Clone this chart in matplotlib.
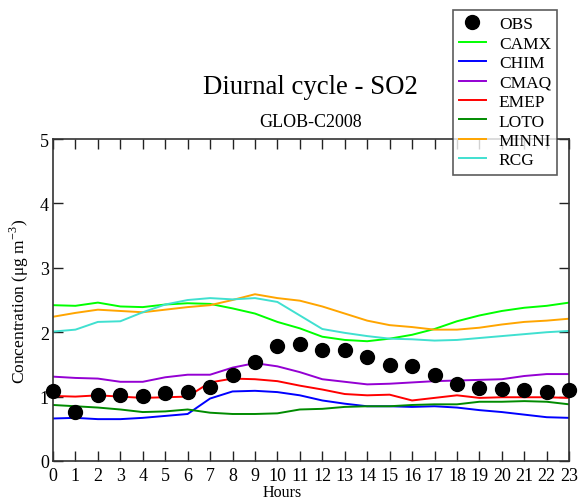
import matplotlib
matplotlib.use("Agg")
import matplotlib.pyplot as plt

plt.rcParams['font.family'] = ['Liberation Serif', 'DejaVu Serif']
plt.rcParams['mathtext.fontset'] = 'custom'
plt.rcParams['mathtext.rm'] = 'Liberation Serif'

hours = list(range(24))
xtick_labels = [str(h) for h in hours]
yticks = [0, 1, 2, 3, 4, 5]

obs = [1.09, 0.76, 1.03, 1.02, 1.01, 1.06, 1.07, 1.15, 1.34, 1.53, 1.79, 1.82,
       1.73, 1.72, 1.62, 1.49, 1.47, 1.34, 1.19, 1.13, 1.12, 1.11, 1.07, 1.11]
camx = [2.42, 2.41, 2.46, 2.40, 2.39, 2.43, 2.45, 2.44, 2.37, 2.29, 2.16, 2.06,
        1.93, 1.88, 1.86, 1.90, 1.96, 2.05, 2.17, 2.26, 2.33, 2.38, 2.41, 2.46]
chim = [0.66, 0.67, 0.65, 0.65, 0.67, 0.70, 0.73, 0.97, 1.08, 1.09, 1.07, 1.02,
        0.94, 0.89, 0.85, 0.85, 0.84, 0.85, 0.83, 0.79, 0.76, 0.72, 0.68, 0.67]
cmaq = [1.31, 1.29, 1.28, 1.23, 1.23, 1.30, 1.34, 1.34, 1.45, 1.52, 1.47, 1.38,
        1.27, 1.23, 1.19, 1.20, 1.22, 1.24, 1.25, 1.26, 1.27, 1.32, 1.35, 1.35]
emep = [1.01, 1.00, 1.02, 1.00, 0.98, 0.99, 1.00, 1.22, 1.28, 1.27, 1.24, 1.17,
        1.11, 1.04, 1.02, 1.03, 0.94, 0.98, 1.02, 0.98, 0.99, 0.99, 0.99, 0.98]
loto = [0.87, 0.85, 0.83, 0.80, 0.76, 0.77, 0.80, 0.75, 0.73, 0.73, 0.74, 0.80,
        0.81, 0.84, 0.85, 0.85, 0.87, 0.88, 0.88, 0.92, 0.92, 0.93, 0.92, 0.88]
minni = [2.24, 2.30, 2.35, 2.33, 2.31, 2.35, 2.39, 2.42, 2.50, 2.59, 2.53, 2.49,
         2.40, 2.29, 2.18, 2.11, 2.08, 2.04, 2.04, 2.07, 2.12, 2.16, 2.18, 2.21]
rcg = [2.01, 2.04, 2.16, 2.17, 2.31, 2.43, 2.50, 2.53, 2.51, 2.53, 2.47, 2.26,
       2.05, 1.99, 1.94, 1.90, 1.89, 1.87, 1.88, 1.91, 1.94, 1.97, 2.00, 2.02]

models = ['CAMX', 'CHIM', 'CMAQ', 'EMEP', 'LOTO', 'MINNI', 'RCG']
series = [camx, chim, cmaq, emep, loto, minni, rcg]
colors = ['#00ff00', '#0000ff', '#9400d3', '#ff0000', '#008b00', '#ffa500', '#40e0d0']

fig = plt.figure(figsize=(5.79, 5.02), dpi=100)
ax = fig.add_axes([0.0915, 0.0797, 0.8915, 0.6413])

h_obs, = ax.plot(hours, obs, 'o', color='black', markersize=10, linestyle='none',
                 label='OBS', zorder=5, clip_on=False)
handles = [h_obs]
for name, vals, c in zip(models, series, colors):
    h, = ax.plot(hours, vals, color=c, lw=1.4, label=name)
    handles.append(h)

ax.set_xlim(0, 23)
ax.set_ylim(0, 5)
ax.set_xticks(hours)
ax.set_xticklabels(xtick_labels)
ax.set_yticks(yticks)
ax.tick_params(direction='in', length=7, width=1, top=True, right=True,
               labelsize=13, pad=3, colors='#222222', labelcolor='black')
ax.tick_params(axis='x', pad=4)
for s in ax.spines.values():
    s.set_color('#333333')
    s.set_linewidth(1.2)

ax.set_ylabel(r'Concentration (μg m$^{-3}$)', fontsize=12.5, labelpad=6)
ax.set_xlabel('Hours', fontsize=11.5, labelpad=0)
ax.xaxis.set_label_coords(0.444, -0.072)

fig.text(0.537, 0.812, 'Diurnal cycle - SO2', fontsize=19.3, ha='center', va='baseline')
fig.text(0.537, 0.748, 'GLOB-C2008', fontsize=13, ha='center', va='baseline')

leg = fig.legend(handles=handles, loc='upper left', bbox_to_anchor=(0.782, 0.978),
                 fontsize=12.5, frameon=True, fancybox=False, edgecolor='#333333',
                 borderpad=0.35, labelspacing=0.19, handlelength=1.55, handletextpad=0.75,
                 borderaxespad=0)
leg.get_frame().set_linewidth(1.2)
leg.set_zorder(10)

fig.savefig('out.png', dpi=100)
